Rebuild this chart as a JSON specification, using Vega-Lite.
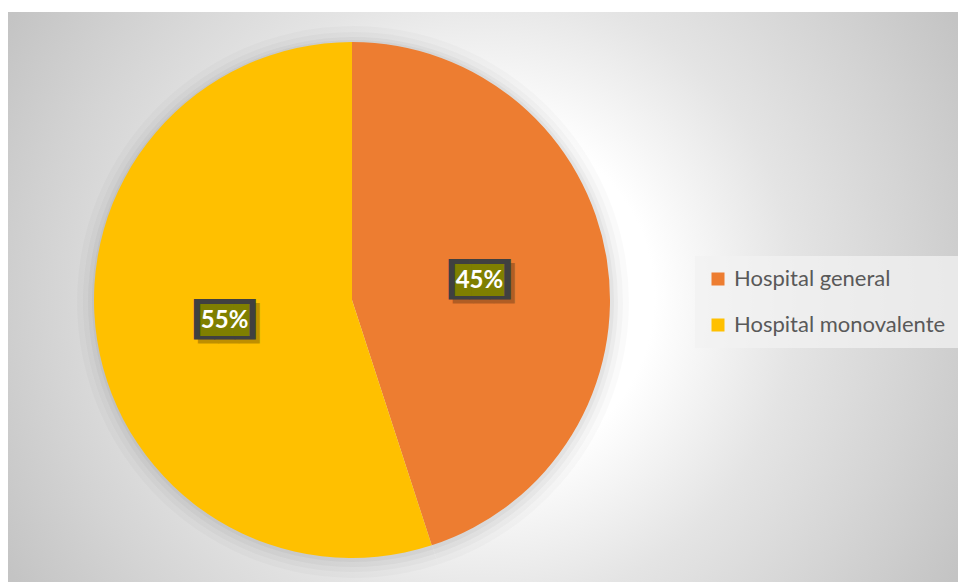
{
  "$schema": "https://vega.github.io/schema/vega-lite/v6.json",
  "width": 958,
  "height": 582,
  "autosize": {"type": "fit", "contains": "padding"},
  "padding": {"left": 8, "top": 12, "right": 0, "bottom": 0},
  "background": "#ffffff",
  "config": {"view": {"stroke": "#bdbdbd", "strokeWidth": 1}},
  "data": {
    "values": [
      {"category": "Hospital general", "value": 45, "label": "45%", "box": "███"},
      {"category": "Hospital monovalente", "value": 55, "label": "55%", "box": "███"}
    ]
  },
  "layer": [
    {
      "data": {"values": [{}]},
      "mark": {
        "type": "rect",
        "fill": {
          "gradient": "radial",
          "x1": 0.5, "y1": 0.5, "r1": 0,
          "x2": 0.5, "y2": 0.5, "r2": 0.6,
          "stops": [
            {"offset": 0, "color": "#ffffff"},
            {"offset": 0.3, "color": "#ffffff"},
            {"offset": 0.55, "color": "#e4e4e4"},
            {"offset": 0.76, "color": "#d4d4d4"},
            {"offset": 0.96, "color": "#c4c4c4"},
            {"offset": 1, "color": "#c3c3c3"}
          ]
        }
      },
      "encoding": {}
    },
    {
      "mark": {"type": "arc", "outerRadius": 276, "x": 345, "y": 290, "color": "#000000", "opacity": 0.02},
      "encoding": {
        "theta": {"field": "value", "type": "quantitative", "stack": true},
        "detail": {"field": "category"}
      }
    },
    {
      "mark": {"type": "arc", "outerRadius": 270, "x": 345, "y": 290, "color": "#000000", "opacity": 0.025},
      "encoding": {
        "theta": {"field": "value", "type": "quantitative", "stack": true},
        "detail": {"field": "category"}
      }
    },
    {
      "mark": {"type": "arc", "outerRadius": 265, "x": 345, "y": 290, "color": "#000000", "opacity": 0.03},
      "encoding": {
        "theta": {"field": "value", "type": "quantitative", "stack": true},
        "detail": {"field": "category"}
      }
    },
    {
      "mark": {"type": "arc", "outerRadius": 261, "x": 345, "y": 289, "color": "#000000", "opacity": 0.035},
      "encoding": {
        "theta": {"field": "value", "type": "quantitative", "stack": true},
        "detail": {"field": "category"}
      }
    },
    {
      "mark": {"type": "arc", "outerRadius": 258, "x": 344, "y": 288},
      "encoding": {
        "theta": {"field": "value", "type": "quantitative", "stack": true},
        "color": {
          "field": "category",
          "type": "nominal",
          "scale": {"domain": ["Hospital general", "Hospital monovalente"], "range": ["#ED7D31", "#FFC000"]},
          "legend": {
            "orient": "none",
            "legendX": 687,
            "legendY": 244,
            "title": null,
            "symbolType": "square",
            "symbolSize": 169,
            "symbolStrokeWidth": 0,
            "labelFont": "Lato",
            "labelFontSize": 22,
            "labelColor": "#595959",
            "labelOffset": 5,
            "rowPadding": 24,
            "padding": 12,
            "fillColor": "rgba(242,242,242,0.75)",
            "labelLimit": 400
          }
        }
      }
    },
    {
      "mark": {"type": "text", "radius": 129, "x": 344, "y": 289, "font": "DejaVu Sans Mono", "fontSize": 34, "color": "#000000", "opacity": 0.25, "dx": 4, "dy": 4},
      "encoding": {
        "theta": {"field": "value", "type": "quantitative", "stack": true},
        "detail": {"field": "category"},
        "text": {"field": "box"}
      }
    },
    {
      "mark": {"type": "text", "radius": 129, "x": 344, "y": 289, "font": "DejaVu Sans Mono", "fontSize": 34, "color": "#404040"},
      "encoding": {
        "theta": {"field": "value", "type": "quantitative", "stack": true},
        "detail": {"field": "category"},
        "text": {"field": "box"}
      }
    },
    {
      "mark": {"type": "text", "radius": 129, "x": 344, "y": 289, "font": "DejaVu Sans Mono", "fontSize": 27, "color": "#7F7F00"},
      "encoding": {
        "theta": {"field": "value", "type": "quantitative", "stack": true},
        "detail": {"field": "category"},
        "text": {"field": "box"}
      }
    },
    {
      "mark": {"type": "text", "radius": 129, "x": 344, "y": 289, "font": "Lato", "fontWeight": "bold", "fontSize": 24, "color": "#ffffff"},
      "encoding": {
        "theta": {"field": "value", "type": "quantitative", "stack": true},
        "detail": {"field": "category"},
        "text": {"field": "label"}
      }
    }
  ]
}
